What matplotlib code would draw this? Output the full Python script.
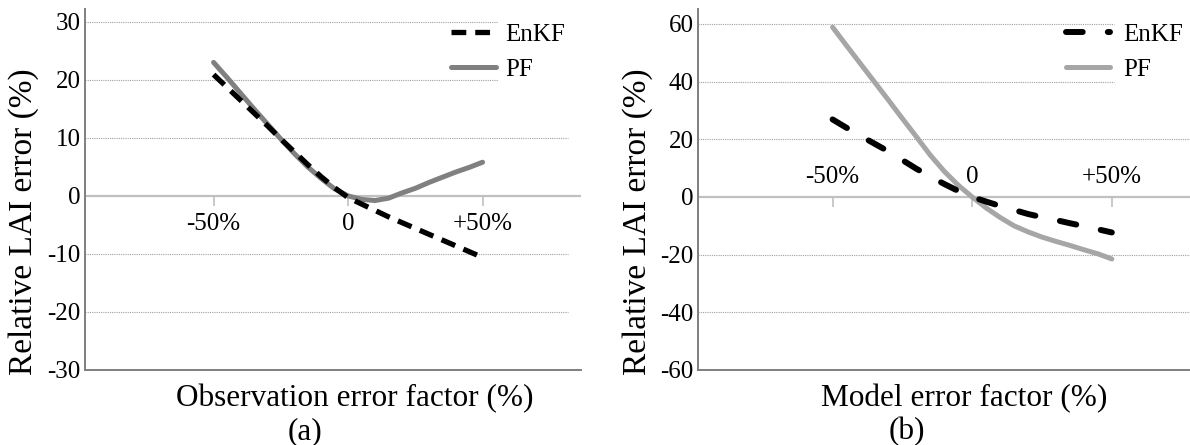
import numpy as np
import matplotlib
matplotlib.use('Agg')
import matplotlib.pyplot as plt

plt.rcParams['font.family'] = ['Liberation Serif', 'DejaVu Serif']

factor = [-50, -45, -40, -35, -30, -25, -20, -15, -10, -5, 0,
          5, 10, 15, 20, 25, 30, 35, 40, 45, 50]
cat_pos = [-50, 0, 50]
cat_labels = ['-50%', '0', '+50%']

# (a) observation error factor
enkf_a = [20.9, 18.7, 16.5, 14.3, 12.1, 9.8, 7.6, 5.4, 3.3, 1.4, -0.3,
          -1.4, -2.5, -3.6, -4.6, -5.6, -6.6, -7.6, -8.6, -9.6, -10.6]
pf_a = [23.0, 20.4, 17.7, 15.0, 12.4, 9.8, 7.3, 5.0, 3.0, 1.2, 0.0,
        -0.6, -0.8, -0.4, 0.5, 1.3, 2.3, 3.2, 4.1, 4.9, 5.8]
yticks_a = [-30, -20, -10, 0, 10, 20, 30]

# (b) model error factor
enkf_b = [26.9, 24.0, 21.2, 18.5, 15.8, 12.8, 9.8, 7.1, 4.5, 2.1, 0.0,
          -1.6, -3.1, -4.5, -5.9, -7.0, -8.0, -9.1, -10.1, -11.2, -12.3]
pf_b = [58.9, 52.5, 46.2, 39.9, 33.6, 27.2, 20.9, 14.5, 8.9, 4.1, 0.0,
        -3.8, -7.1, -10.0, -12.1, -13.9, -15.4, -16.8, -18.3, -19.7, -21.5]
yticks_b = [-60, -40, -20, 0, 20, 40, 60]

fig = plt.figure(figsize=(11.9, 4.45), dpi=100)
ax1 = fig.add_axes([85/1190, 75/445, 496/1190, 361/445])
ax2 = fig.add_axes([698/1190, 75/445, 492/1190, 361/445])

fs = 18
fl = 22.5


def setup(ax, yticks, ylim, xlim, short_grid, gx_short, gx_long, lab_off):
    ax.set_xlim(xlim)
    ax.set_ylim(ylim)
    for y in yticks[1:]:
        if y == 0:
            ax.axhline(0, color='#c0c0c0', lw=1.6, zorder=1)
        else:
            xm = gx_short if y in short_grid else gx_long
            ax.axhline(y, xmin=0, xmax=xm, color='#a0a0a0', lw=0.8,
                       ls=(0, (1, 1)), zorder=1)
    ax.set_yticks(yticks)
    ax.set_yticklabels([str(v) for v in yticks], fontsize=fs)
    ax.tick_params(axis='y', length=0, pad=3)
    ax.set_xticks([])
    for s in ['top', 'right']:
        ax.spines[s].set_visible(False)
    for s in ['left', 'bottom']:
        ax.spines[s].set_color('#7f7f7f')
        ax.spines[s].set_linewidth(1.4)
    # category ticks sit on the zero line
    frac0 = (0 - ylim[0]) / (ylim[1] - ylim[0])
    sec = ax.secondary_xaxis(frac0)
    sec.set_xticks(cat_pos)
    sec.set_xticklabels([])
    sec.tick_params(axis='x', length=7, width=1.2, color='#c0c0c0', direction='out')
    sec.spines['bottom'].set_visible(False)
    for x, t in zip(cat_pos, cat_labels):
        ax.text(x, lab_off, t, ha='center', va='center', fontsize=fs)


setup(ax1, yticks_a, (-30, 32.2), (-97.8, 86.6), [20, 30], 0.833, 0.974, -4.8)
setup(ax2, yticks_b, (-60, 65.2), (-98.2, 78.0), [40, 60], 0.846, 1.0, 7.0)

ax1.plot(factor, enkf_a, color='black', lw=3.8, dashes=(2.8, 1.7),
         dash_capstyle='butt', solid_joinstyle='round', label='EnKF', zorder=3)
ax1.plot(factor, pf_a, color='#808080', lw=3.6, solid_capstyle='round',
         solid_joinstyle='round', label='PF', zorder=2)
ax2.plot(factor, enkf_b, color='black', lw=4.3, dashes=(2.8, 4.2),
         dash_capstyle='round', label='EnKF', zorder=3)
ax2.plot(factor, pf_b, color='#a6a6a6', lw=3.6, solid_capstyle='round',
         solid_joinstyle='round', label='PF', zorder=2)

ax1.legend(loc='upper left', bbox_to_anchor=((443 - 85) / 496, 0.98),
           frameon=False, fontsize=fs, handlelength=1.8, handletextpad=0.4,
           labelspacing=0.5, borderpad=0.3, borderaxespad=0)
ax2.legend(loc='upper left', bbox_to_anchor=((1058 - 698) / 492, 0.98),
           frameon=False, fontsize=fs, handlelength=1.76, handletextpad=0.56,
           labelspacing=0.5, borderpad=0.3, borderaxespad=0)

for ax in (ax1, ax2):
    ax.set_ylabel('Relative LAI error (%)', fontsize=24)
    ax.yaxis.set_label_coords(-0.092, 0.41)

fig.text(355/1190, 1 - 399/445, 'Observation error factor (%)', ha='center',
         va='center', fontsize=fl)
fig.text(305/1190, 1 - 432/445, '(a)', ha='center', va='center', fontsize=fl)
fig.text(964/1190, 1 - 399/445, 'Model error factor (%)', ha='center',
         va='center', fontsize=fl)
fig.text(907/1190, 1 - 432/445, '(b)', ha='center', va='center', fontsize=fl)

plt.savefig('out.png', dpi=100)
